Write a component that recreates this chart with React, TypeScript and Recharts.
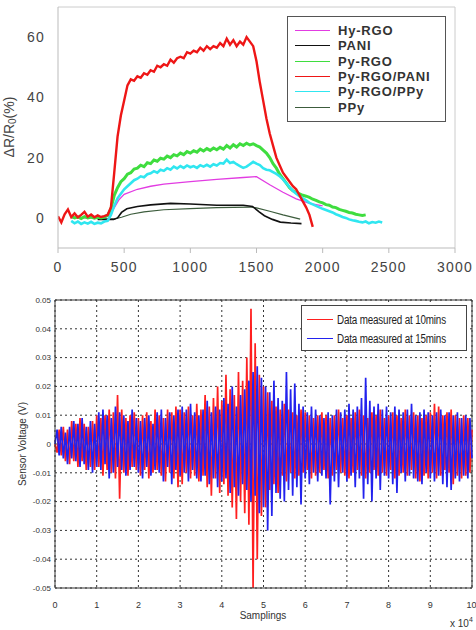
import { LineChart, Line, XAxis, YAxis, CartesianGrid, ReferenceLine, Legend } from 'recharts'

// ---- top chart: response (%) vs time (s) ----
const STEP = 25

// sampled every 25 s from the given start
const pyRgoPaniStart = 0
const pyRgoPani = [
  0.5, -1.5, 1.2, 2.8, 0.3, 1.5, 0.2, 1.0, 2.0, 0.4, 1.1, 0.2, 0.8, 0.3, 0.6, 1.0,
  3.5, 15, 27, 34, 39, 44, 46, 45.5, 47, 46.5, 48, 47.5, 49, 48.5, 50.5, 50,
  51, 50.5, 52.5, 51.5, 53, 53.5, 53, 55, 54.5, 55.5, 55, 56.5, 55.5, 57, 56, 57,
  56.5, 58, 57, 59.5, 57.5, 59, 57, 58.5, 57.5, 60, 58.5, 57, 52, 45, 39, 33,
  28, 24, 20, 17.5, 15, 13.5, 12, 10.5, 9.5, 7.5, 5.5, 3.5, 1, -3,
]

const pyRgoStart = 100
const pyRgo = [
  0.5, 0, 0.3, -0.2, 0.4, 0, 0.3, -0.1, 0.2, 0, 0.3, 0.8,
  3, 7.5, 10, 12, 13, 14.5, 15, 16.2, 16.5, 17.5, 17, 18.3, 18, 19.2, 18.8, 19.8,
  19.5, 20.5, 20, 21, 20.6, 21.5, 21, 22, 21.5, 22.3, 21.8, 22.8, 22.2, 23, 22.4, 23.2,
  22.6, 23.4, 22.8, 24, 23.2, 24.3, 23.5, 24.6, 24, 24.8, 24.2, 24.6, 24, 23.5, 22.5, 21.5,
  20, 18, 16.5, 14.5, 13, 11.5, 10, 9, 8.5, 8, 7.5, 7.2, 6.8, 6.2, 5.8, 5.3,
  5, 4.4, 4.2, 3.6, 3.4, 2.8, 2.5, 2.2, 1.8, 1.6, 1.2, 1, 0.8, 1,
]

const pyRgoPpyStart = 100
const pyRgoPpy = [
  -1, -1.8, -1.2, -2, -1.5, -1.9, -1.3, -2, -1.6, -1.8, -1.2, -1,
  1, 4, 6.5, 8, 9.5, 10.5, 11.5, 12.5, 13, 13.8, 13.5, 14.5, 14.8, 15.5, 15, 16,
  15.6, 16.5, 16, 17, 16.4, 17.2, 16.6, 17.4, 16.8, 17.2, 16.6, 17.5, 17, 17.6, 17, 17.8,
  17.4, 18.2, 18, 19.3, 18.2, 18.6, 17.8, 17.2, 16.6, 17, 17.8, 18.6, 18, 17.5, 16.5, 16,
  15.8, 15.2, 14.6, 13.8, 12.8, 11.5, 10.2, 9, 8, 7.2, 6.5, 5.8, 5, 4.5, 4, 3.5,
  3, 2.6, 2.2, 1.8, 1.2, 0.8, 0.3, 0, -0.5, -0.8, -1, -1.3, -1.5, -1.2, -1.8, -1.4,
  -1.6, -1.2, -1.5,
]

const hyRgoT = [100, 300, 380, 420, 460, 500, 600, 700, 800, 1000, 1200, 1400, 1500, 1600, 1700, 1800, 1900, 2000]
const hyRgoV = [0, 0, 0.5, 3, 6, 7.8, 9.5, 10.5, 11.2, 12, 12.8, 13.4, 13.7, 11, 8.5, 6.3, 4.8, 4]

const paniT = [300, 420, 450, 480, 520, 600, 700, 850, 1000, 1200, 1400, 1470, 1520, 1560, 1620, 1680, 1760, 1840]
const paniV = [-0.5, -0.5, 0, 1.8, 3, 3.8, 4.3, 4.8, 4.6, 4.2, 4.2, 3.8, 2, 0.7, -0.5, -1.4, -1.7, -1.9]

const ppyT = [300, 420, 480, 550, 650, 800, 1000, 1200, 1450, 1500, 1600, 1700, 1830]
const ppyV = [-0.4, -0.4, 0.2, 1.2, 2, 2.7, 3.1, 3.4, 3.6, 3.3, 2.2, 1, -0.4]

const timeTicks = [0, 500, 1000, 1500, 2000, 2500, 3000]
const respTicks = [0, 20, 40, 60]

// ---- bottom chart: sensor voltage (mV), one value every 0.05 x10^4 samples ----
const measured10 = [
  0, -3, 5, -4, 6, -6, 5, -7, 8, -6, 7, -8, 9, -6, 7, -9, 6, -8, 8, -9,
  10, -8, 9, -11, 10, -9, 12, -10, 11, -12, 17, -19, 12, -10, 9, -11, 10, -8, 11, -9,
  9, -11, 10, -9, 11, -12, 8, -10, 12, -9, 10, -11, 9, -13, 12, -10, 11, -12, 13, -15,
  12, -14, 11, -10, 13, -12, 10, -11, 14, -13, 12, -11, 17, -15, 13, -18, 16, -12, 20, -17,
  15, -14, 24, -18, 19, -22, 17, -26, 25, -20, 22, -24, 30, -28, 47, -50, 35, -40, 24, -25,
  20, -22, 18, -16, 15, -14, 13, -17, 12, -11, 14, -13, 12, -10, 11, -12, 10, -11, 12, -10,
  11, -9, 10, -12, 9, -11, 10, -10, 11, -9, 10, -12, 9, -11, 10, -9, 12, -10, 9, -11,
  10, -12, 9, -10, 11, -9, 12, -11, 10, -12, 9, -10, 11, -9, 10, -11, 12, -10, 9, -11,
  10, -9, 11, -12, 10, -11, 9, -10, 12, -11, 10, -9, 11, -12, 10, -13, 9, -11, 10, -12,
  11, -10, 14, -12, 13, -11, 10, -9, 11, -10, 12, -14, 10, -11, 9, -12, 10, -11, 9, -10,
  5,
]
const measured15 = [
  0, 5, -4, 6, -5, 4, -7, 6, -5, 8, -6, 7, -8, 9, -7, 6, -9, 8, -10, 7,
  -8, 11, -9, 12, -7, 10, -12, 9, -10, 13, -8, 11, -9, 10, -11, 8, -9, 12, -8, 9,
  -10, 8, -12, 9, -8, 10, -11, 7, -9, 11, -10, 12, -13, 9, -8, 11, -14, 10, -9, 12,
  -11, 13, -10, 12, -13, 14, -9, 11, -12, 10, -13, 12, -11, 15, -14, 11, -12, 13, -15, 12,
  -13, 16, -12, 14, -17, 20, -15, 13, -18, 17, -14, 19, -16, 22, -20, 25, -18, 27, -24, 23,
  -22, 20, -30, 18, -25, 22, -17, 16, -19, 15, -20, 25, -16, 19, -18, 21, -15, 14, -21, 13,
  -12, 11, -14, 13, -10, 12, -13, 10, -11, 9, -12, 11, -21, 10, -13, 12, -15, 11, -10, 12,
  -13, 14, -11, 12, -15, 13, -12, 16, -19, 23, -14, 15, -20, 13, -12, 14, -16, 12, -11, 13,
  -12, 11, -14, 13, -17, 12, -10, 11, -13, 12, -11, 14, -12, 10, -13, 11, -14, 12, -10, 11,
  -12, 10, -13, 11, -11, 12, -14, 10, -15, 11, -16, 10, -12, 11, -13, 9, -11, 10, -12, 9,
  -5,
]
const sampleTicks = [0, 1, 2, 3, 4, 5, 6, 7, 8, 9, 10]
const voltTicks = [-0.05, -0.04, -0.03, -0.02, -0.01, 0, 0.01, 0.02, 0.03, 0.04, 0.05]

const stepped = (start: number, vals: number[]) => vals.map((v, i) => ({ t: start + i * STEP, v }))
const paired = (ts: number[], vs: number[]) => ts.map((t, i) => ({ t, v: vs[i] }))

const topSeries = [
  { name: 'Hy-RGO', color: '#e23ce2', width: 1.3, data: paired(hyRgoT, hyRgoV) },
  { name: 'PANI', color: '#111111', width: 1.6, data: paired(paniT, paniV) },
  { name: 'Py-RGO', color: '#3fdd3f', width: 3, data: stepped(pyRgoStart, pyRgo) },
  { name: 'Py-RGO/PANI', color: '#ee1616', width: 2.4, data: stepped(pyRgoPaniStart, pyRgoPani) },
  { name: 'Py-RGO/PPy', color: '#30e6f0', width: 2.6, data: stepped(pyRgoPpyStart, pyRgoPpy) },
  { name: 'PPy', color: '#3c5c3c', width: 1.2, data: paired(ppyT, ppyV) },
]
// drawing order (last on top)
const drawOrder = ['PPy', 'PANI', 'Hy-RGO', 'Py-RGO', 'Py-RGO/PPy', 'Py-RGO/PANI']

const noiseRows = measured15.map((b, i) => ({ x: i / 20, a: measured10[i] / 1000, b: b / 1000 }))

const ARIAL = '"Liberation Sans", Arial, sans-serif'

const TopLegend = () => (
  <div style={{ border: '1px solid #555', width: 159, height: 106, boxSizing: 'border-box', background: '#fff', paddingTop: 6, paddingLeft: 7 }}>
    {topSeries.map(s => (
      <div key={s.name} style={{ display: 'flex', alignItems: 'center', height: 15.3 }}>
        <span style={{ width: 35, borderTop: `1.5px solid ${s.color}`, marginRight: 8 }} />
        <span style={{ font: `bold 13px ${ARIAL}`, color: '#333', letterSpacing: 0.8, whiteSpace: 'nowrap' }}>{s.name}</span>
      </div>
    ))}
  </div>
)

const noiseSeries = [
  { key: 'a', name: 'Data measured at 10mins', color: '#ff1f1f' },
  { key: 'b', name: 'Data measured at 15mins', color: '#2222ee' },
]

const BottomLegend = () => (
  <div style={{ border: '1px solid #444', width: 166, height: 46, boxSizing: 'border-box', background: '#fff', paddingTop: 4, paddingLeft: 5 }}>
    {noiseSeries.map(s => (
      <div key={s.key} style={{ display: 'flex', alignItems: 'center', height: 19 }}>
        <span style={{ width: 26, borderTop: `1px solid ${s.color}`, marginRight: 4, flexShrink: 0 }} />
        <span style={{ font: `12px ${ARIAL}`, color: '#222', whiteSpace: 'nowrap', display: 'inline-block', transform: 'scaleX(0.82)', transformOrigin: 'left center', letterSpacing: -0.2 }}>{s.name}</span>
      </div>
    ))}
  </div>
)

const fmtVolt = (v: number) => String(Number(v.toFixed(2)))

export default function App() {
  return (
    <div style={{ position: 'absolute', left: 0, top: 0, width: 476, height: 630, background: '#fff' }}>
      <div style={{ position: 'absolute', left: 0, top: 0 }}>
        <LineChart width={476} height={290} margin={{ top: 7, right: 21, bottom: 0, left: 0 }}>
          <XAxis
            type="number"
            dataKey="t"
            domain={[0, 3000]}
            ticks={timeTicks}
            height={42}
            stroke="#bbb"
            tickSize={5}
            tickMargin={9}
            tick={{ fill: '#444', fontSize: 14, fontFamily: ARIAL, letterSpacing: 1.2 }}
            allowDataOverflow
          />
          <YAxis
            type="number"
            domain={[-10, 70]}
            ticks={respTicks}
            width={58}
            stroke="#bbb"
            tickLine={false}
            tickMargin={7}
            tick={{ fill: '#444', fontSize: 14, fontFamily: ARIAL, letterSpacing: 1.2 }}
            allowDataOverflow
          />
          <ReferenceLine y={70} stroke="#ccc" />
          <ReferenceLine x={3000} stroke="#ccc" />
          {drawOrder.map(n => {
            const s = topSeries.find(q => q.name === n)!
            return (
              <Line
                key={s.name}
                data={s.data}
                dataKey="v"
                name={s.name}
                stroke={s.color}
                strokeWidth={s.width}
                dot={false}
                isAnimationActive={false}
              />
            )
          })}
          <Legend
            layout="vertical"
            align="center"
            verticalAlign="middle"
            content={() => <TopLegend />}
            wrapperStyle={{ top: 16, left: 287, width: 159, height: 106 }}
          />
        </LineChart>
      </div>

      <div style={{ position: 'absolute', left: 0, top: 290 }}>
        <LineChart width={476} height={340} data={noiseRows} margin={{ top: 10, right: 4, bottom: 0, left: 0 }}>
          <CartesianGrid strokeDasharray="2 3" stroke="#333" horizontalValues={voltTicks} verticalValues={sampleTicks} />
          <XAxis
            type="number"
            dataKey="x"
            domain={[0, 10]}
            ticks={sampleTicks}
            height={42}
            stroke="#333"
            tickLine={false}
            tickMargin={8}
            tick={{ fill: '#333', fontSize: 9, fontFamily: ARIAL }}
          />
          <YAxis
            type="number"
            domain={[-0.05, 0.05]}
            ticks={voltTicks}
            tickFormatter={fmtVolt}
            width={55}
            stroke="#333"
            tickLine={false}
            tickSize={2}
            tickMargin={2}
            tick={{ fill: '#333', fontSize: 8, fontFamily: ARIAL }}
            allowDataOverflow
          />
          <ReferenceLine y={0.05} stroke="#333" />
          <ReferenceLine x={10} stroke="#333" />
          {noiseSeries.map(s => (
            <Line
              key={s.key}
              dataKey={s.key}
              name={s.name}
              stroke={s.color}
              strokeWidth={1.7}
              dot={false}
              isAnimationActive={false}
            />
          ))}
          <Legend
            layout="vertical"
            align="center"
            verticalAlign="middle"
            content={() => <BottomLegend />}
            wrapperStyle={{ top: 15, left: 301, width: 166, height: 46 }}
          />
        </LineChart>
      </div>

      <svg width={476} height={630} style={{ position: 'absolute', left: 0, top: 0, pointerEvents: 'none' }}>
        <text transform="translate(9,127) rotate(-90)" textAnchor="middle" fontSize={14} fontFamily={ARIAL} fill="#444" dominantBaseline="central">
          ΔR/R<tspan fontSize={10} dy={3}>0</tspan><tspan dy={-3}>(%)</tspan>
        </text>
        <text transform="translate(22,444) rotate(-90)" textAnchor="middle" fontSize={10} fontFamily={ARIAL} fill="#333" dominantBaseline="central">
          Sensor Voltage (V)
        </text>
        <text x={263} y={619} textAnchor="middle" fontSize={10} fontFamily={ARIAL} fill="#333">Samplings</text>
        <text x={450} y={627} fontSize={10} fontFamily={ARIAL} fill="#333">
          x 10<tspan fontSize={7} dy={-5}>4</tspan>
        </text>
      </svg>
    </div>
  )
}
